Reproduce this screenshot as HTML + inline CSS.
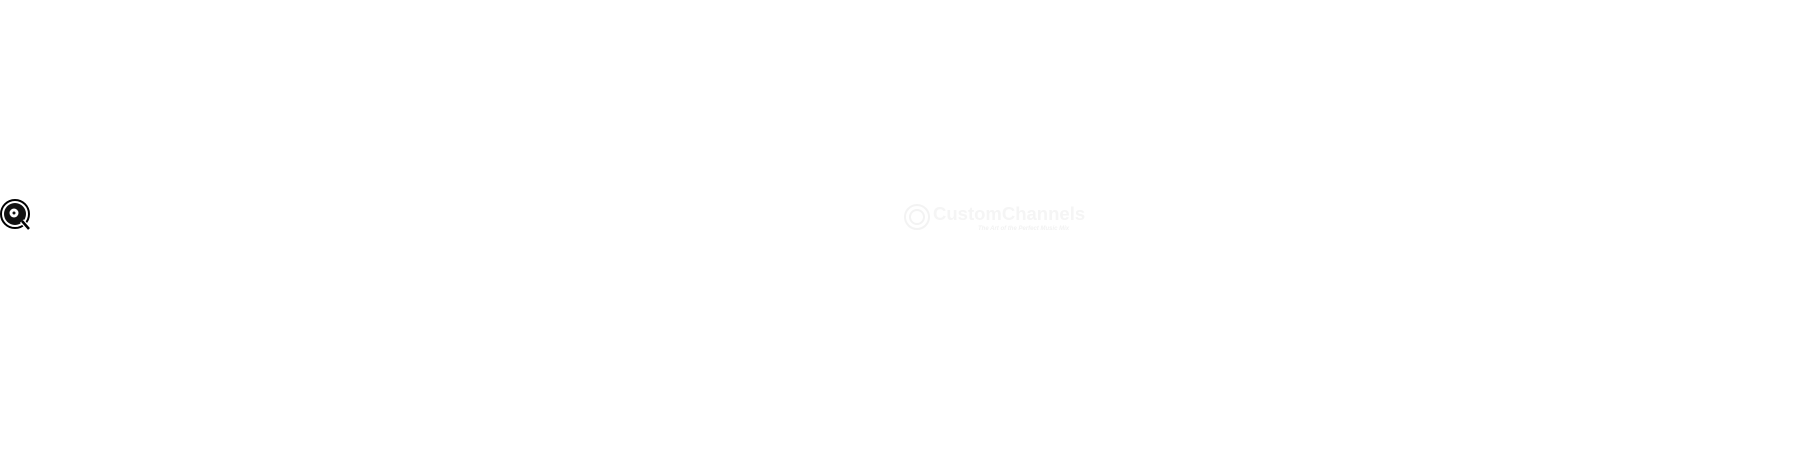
<!DOCTYPE html>
<html><head><style>
html,body{margin:0;padding:0;background:#fff;width:1800px;height:450px;overflow:hidden;position:relative;font-family:"Liberation Sans",sans-serif}
.t{position:absolute;left:933px;top:203px;font-size:18.5px;font-weight:bold;color:#f5f5f5;white-space:nowrap}
.s{position:absolute;left:978px;top:226px;font-size:6px;font-style:italic;font-weight:bold;color:#f2f2f2;white-space:nowrap}
</style></head><body>
<svg style="position:absolute;left:0;top:198px" width="34" height="36" viewBox="0 0 34 36">
<circle cx="15" cy="16" r="14" fill="#fff" stroke="#000" stroke-width="2"/>
<circle cx="15" cy="16" r="11" fill="#111"/>
<circle cx="14" cy="15" r="4.5" fill="#fff"/>
<circle cx="14" cy="15" r="1.5" fill="#111"/>
<line x1="22" y1="23" x2="29" y2="31" stroke="#fff" stroke-width="5"/>
<line x1="22" y1="23" x2="29" y2="31" stroke="#000" stroke-width="2.5"/>
</svg>
<svg style="position:absolute;left:903px;top:203px" width="28" height="28"><circle cx="14" cy="14" r="12" fill="none" stroke="#f3f3f3" stroke-width="2"/><circle cx="14" cy="14" r="7" fill="none" stroke="#f3f3f3" stroke-width="2"/></svg>
<div class="t">CustomChannels</div>
<div class="s">The Art of the Perfect Music Mix</div>
</body></html>
